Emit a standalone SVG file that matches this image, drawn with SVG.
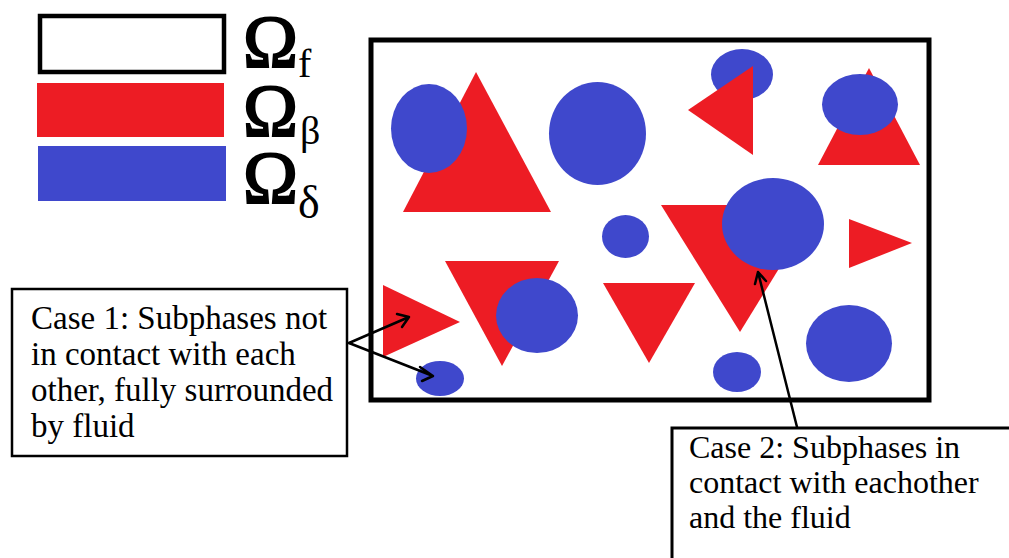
<svg xmlns="http://www.w3.org/2000/svg" width="1009" height="558" viewBox="0 0 1009 558">
<style>
.r{fill:#ED1C24}
.b{fill:#3F48CC}
.t{font-family:"Liberation Serif","Times New Roman",serif;fill:#000}
.om{font-family:"Liberation Serif","Times New Roman",serif;font-size:74px;fill:#000;stroke:#000;stroke-width:2}
.box{fill:#fff;stroke:#000}
.ln{fill:none;stroke:#000;stroke-width:2.5;stroke-linecap:round;stroke-linejoin:round}
</style>
<rect width="1009" height="558" fill="#fff"/>
<g id="legend">
<rect x="40" y="16" width="184" height="56" fill="#fff" stroke="#000" stroke-width="4.5"/>
<rect class="r" x="37" y="83" width="187" height="54"/>
<rect class="b" x="38" y="146" width="188" height="55"/>
<text class="om" x="243" y="67">Ω</text>
<text class="t" x="298" y="77" font-size="40">f</text>
<text class="om" x="243" y="136">Ω</text>
<text class="t" x="300" y="144" font-size="40">β</text>
<text class="om" x="243" y="203">Ω</text>
<text class="t" x="298" y="218" font-size="46">δ</text>
</g>
<g id="domain">
<rect x="371" y="40" width="558" height="360" fill="#fff" stroke="#000" stroke-width="5"/>
<polygon class="r" points="476,72 551,212 403,212"/>
<ellipse class="b" cx="429" cy="128.5" rx="38" ry="44.5"/>
<ellipse class="b" cx="597.5" cy="133.5" rx="48.5" ry="51.5"/>
<ellipse class="b" cx="742" cy="74.5" rx="31" ry="25.5"/>
<polygon class="r" points="688,110 753,66 753,155"/>
<polygon class="r" points="869,68 920,165 818,165"/>
<ellipse class="b" cx="860" cy="104.5" rx="38" ry="30.5"/>
<polygon class="r" points="661,205 818,205 740,332"/>
<ellipse class="b" cx="773" cy="224" rx="51" ry="46"/>
<polygon class="r" points="849,219 912,243 849,268"/>
<ellipse class="b" cx="849" cy="343.5" rx="43" ry="38.5"/>
<ellipse class="b" cx="737" cy="372" rx="24" ry="20"/>
<ellipse class="b" cx="625.5" cy="236.5" rx="23.5" ry="21.5"/>
<polygon class="r" points="603,283 695,283 649,363"/>
<polygon class="r" points="445,261 559,261 502,366"/>
<ellipse class="b" cx="537" cy="315.5" rx="41" ry="37.5"/>
<polygon class="r" points="383,285 460,322 383,357"/>
<ellipse class="b" cx="440" cy="378.5" rx="24" ry="17.5"/>
</g>
<g id="case1">
<rect class="box" x="12" y="289" width="335" height="167" stroke-width="2.5"/>
<text class="t" font-size="33"><tspan x="31" y="329">Case 1: Subphases not</tspan><tspan x="31" y="365">in contact with each</tspan><tspan x="31" y="401">other, fully surrounded</tspan><tspan x="31" y="437">by fluid</tspan></text>
</g>
<g id="case2">
<rect class="box" x="672" y="428" width="345" height="140" stroke-width="3"/>
<text class="t" font-size="32"><tspan x="689" y="458">Case 2: Subphases in</tspan><tspan x="689" y="493">contact with eachother</tspan><tspan x="689" y="528">and the fluid</tspan></text>
</g>
<g id="connectors">
<path class="ln" d="M349,343 L409,317 M397,314 L409,317 L402,327"/>
<path class="ln" d="M349,343 L433,376 M420,367 L433,376 L422,381"/>
<path class="ln" d="M797,427 L758,272 M755,284 L758,272 L766,281"/>
</g>
</svg>
